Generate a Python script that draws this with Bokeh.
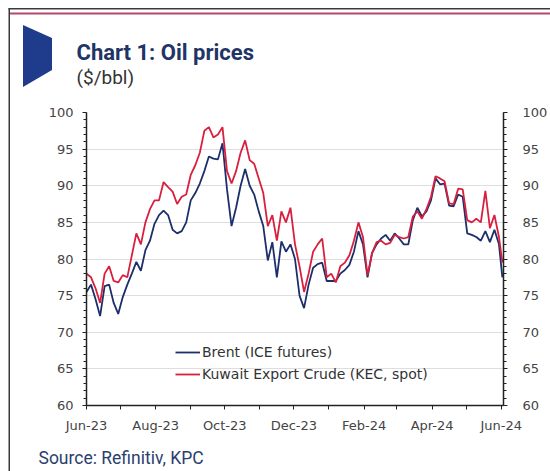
import datetime as dt
from urllib.parse import quote
from bokeh.plotting import figure
from bokeh.models import (Range1d, LinearAxis, SingleIntervalTicker, FixedTicker,
                          DatetimeTickFormatter, Legend, LegendItem, Label,
                          ColumnDataSource)
from bokeh.embed import file_html
from bokeh.resources import INLINE

dates = [
    "2023-06-01", "2023-06-05", "2023-06-09", "2023-06-13", "2023-06-17", "2023-06-21", "2023-06-25", "2023-06-29",
    "2023-07-03", "2023-07-07", "2023-07-11", "2023-07-15", "2023-07-19", "2023-07-23", "2023-07-27", "2023-07-31",
    "2023-08-04", "2023-08-08", "2023-08-12", "2023-08-16", "2023-08-20", "2023-08-24", "2023-08-28",
    "2023-09-01", "2023-09-05", "2023-09-09", "2023-09-13", "2023-09-17", "2023-09-21", "2023-09-25", "2023-09-29",
    "2023-10-03", "2023-10-07", "2023-10-11", "2023-10-15", "2023-10-19", "2023-10-23", "2023-10-27", "2023-10-31",
    "2023-11-04", "2023-11-08", "2023-11-12", "2023-11-16", "2023-11-20", "2023-11-24", "2023-11-28",
    "2023-12-02", "2023-12-06", "2023-12-10", "2023-12-14", "2023-12-18", "2023-12-22", "2023-12-26", "2023-12-30",
    "2024-01-03", "2024-01-07", "2024-01-11", "2024-01-15", "2024-01-19", "2024-01-23", "2024-01-27", "2024-01-31",
    "2024-02-04", "2024-02-08", "2024-02-12", "2024-02-16", "2024-02-20", "2024-02-24", "2024-02-28",
    "2024-03-03", "2024-03-07", "2024-03-11", "2024-03-15", "2024-03-19", "2024-03-23", "2024-03-27", "2024-03-31",
    "2024-04-04", "2024-04-08", "2024-04-12", "2024-04-16", "2024-04-20", "2024-04-24", "2024-04-28",
    "2024-05-02", "2024-05-06", "2024-05-10", "2024-05-14", "2024-05-18", "2024-05-22", "2024-05-26", "2024-05-30",
    "2024-06-02",
]

brent = [
    75.5, 76.5, 74.5, 72.2, 76.3, 76.5, 74.0, 72.5,
    74.8, 76.5, 78.0, 79.6, 78.4, 81.2, 82.5, 84.8,
    86.0, 86.6, 86.0, 84.0, 83.5, 83.8, 85.0,
    88.0, 89.0, 90.3, 92.0, 94.0, 93.7, 93.6, 95.8,
    89.5, 84.5, 87.0, 90.0, 92.3, 90.0, 88.8, 86.5,
    84.5, 79.8, 82.3, 77.5, 82.4, 81.0, 82.0,
    80.0, 75.0, 73.3, 76.5, 78.8, 79.3, 79.5, 77.0,
    77.0, 77.0, 78.0, 78.5, 79.2, 81.0, 83.8, 82.0,
    77.5, 80.8, 82.0, 82.8, 83.3, 82.5, 83.5,
    82.8, 82.0, 82.0, 85.3, 87.0, 85.8, 86.5, 88.0,
    91.0, 90.2, 90.3, 87.3, 87.2, 88.8, 88.5,
    83.5, 83.3, 83.0, 82.5, 83.8, 82.3, 84.0, 82.0,
    77.5,
]

kec = [
    78.0, 77.5, 76.0, 74.0, 78.0, 79.0, 77.0, 76.8,
    77.8, 77.5, 80.5, 83.5, 82.0, 85.0, 86.8, 88.0,
    88.0, 90.5, 89.8, 89.2, 87.5, 88.5, 88.8,
    91.5, 92.8, 94.5, 97.5, 98.0, 96.6, 97.0, 98.0,
    92.0, 90.3, 92.0, 94.5, 96.2, 93.5, 93.0, 91.0,
    89.0, 84.5, 86.0, 82.5, 86.5, 85.0, 87.0,
    82.0, 79.0, 75.5, 78.0, 81.0, 82.0, 82.8, 77.5,
    78.0, 76.8, 79.0, 79.5, 80.5, 82.5, 85.0, 83.0,
    77.8, 80.8, 82.3, 82.5, 82.0, 82.2, 83.3,
    83.0, 82.8, 83.0, 85.8, 86.5, 85.5, 86.8, 88.5,
    91.3, 91.0, 90.6, 87.6, 87.5, 89.6, 89.5,
    85.3, 85.0, 85.5, 85.0, 89.3, 84.2, 86.0, 83.0,
    79.5,
]

major_ticks = ["2023-06-01", "2023-08-01", "2023-10-01", "2023-12-01", "2024-02-01", "2024-04-01", "2024-06-01"]
minor_ticks = ["2023-07-01", "2023-09-01", "2023-11-01", "2024-01-01", "2024-03-01", "2024-05-01"]

title_text = "Chart 1: Oil prices"
subtitle_text = "($/bbl)"
source_text = "Source: Refinitiv, KPC"
series_names = ["Brent (ICE futures)", "Kuwait Export Crude (KEC, spot)"]


def to_dt(s):
    return dt.datetime.strptime(s, "%Y-%m-%d")


def ms(s):
    return (to_dt(s) - dt.datetime(1970, 1, 1)).total_seconds() * 1000.0


W, H = 550, 471
FL, FR, FT, FB = 86, 504, 112, 405   # frame edges in page pixels

# page decorations (frame lines and header icon) drawn as the plot's CSS background
deco_svg = (
    '<svg xmlns="http://www.w3.org/2000/svg" width="550" height="471">'
    '<rect x="8.5" y="8" width="542" height="1.5" fill="#3a3a3a"/>'
    '<rect x="10" y="12.5" width="540" height="2" fill="#b5476a"/>'
    '<rect x="8.5" y="8" width="1.5" height="463" fill="#3a3a3a"/>'
    '<polygon points="23,25 52,38 52,70 23,87" fill="#1f3c8c"/>'
    '</svg>'
)
bg_styles = {
    "background-color": "white",
    "background-image": 'url("data:image/svg+xml;utf8,' + quote(deco_svg) + '")',
    "background-repeat": "no-repeat",
    "background-size": "550px 471px",
}

src = ColumnDataSource(data=dict(x=[to_dt(d) for d in dates], brent=brent, kec=kec))

p = figure(width=W, height=H, output_backend="svg", toolbar_location=None,
           x_axis_type="datetime",
           x_range=Range1d(to_dt("2023-06-01"), to_dt("2024-06-03")),
           y_range=Range1d(60, 100),
           min_border_left=FL, min_border_right=W - FR, min_border_top=FT, min_border_bottom=H - FB,
           styles=bg_styles)
p.outline_line_color = None
p.background_fill_color = "white"
p.border_fill_color = None

BLUE = "#1c2f6b"
RED = "#d8203e"

r1 = p.line("x", "brent", source=src, line_color=BLUE, line_width=1.8)
r2 = p.line("x", "kec", source=src, line_color=RED, line_width=1.8)

# grid
p.xgrid.visible = False
p.ygrid.ticker = SingleIntervalTicker(interval=5)
p.ygrid.grid_line_color = "#dedede"
p.ygrid.grid_line_width = 1

lbl_font = "DejaVu Sans"
lbl_color = "#444444"
lbl_size = "13px"

# x axis
xa = p.xaxis[0]
xa.ticker = FixedTicker(ticks=[ms(t) for t in major_ticks], minor_ticks=[ms(t) for t in minor_ticks])
xa.formatter = DatetimeTickFormatter(days="%b-%y", months="%b-%y", years="%b-%y")
xa.axis_line_color = "#222222"
xa.axis_line_width = 1.5
xa.major_tick_line_color = "#222222"
xa.minor_tick_line_color = "#222222"
xa.major_tick_in = 0
xa.major_tick_out = 4
xa.minor_tick_in = 0
xa.minor_tick_out = 4
xa.major_label_text_font = lbl_font
xa.major_label_text_font_size = lbl_size
xa.major_label_text_color = lbl_color
xa.major_label_standoff = 8


def style_y(ax, standoff):
    ax.axis_line_color = "#222222"
    ax.axis_line_width = 1.5
    ax.major_tick_line_color = "#222222"
    ax.minor_tick_line_color = "#222222"
    ax.major_tick_in = 0
    ax.major_tick_out = 4
    ax.minor_tick_in = 0
    ax.minor_tick_out = 3
    ax.major_label_text_font = lbl_font
    ax.major_label_text_font_size = lbl_size
    ax.major_label_text_color = lbl_color
    ax.major_label_standoff = standoff


ya = p.yaxis[0]
ya.ticker = SingleIntervalTicker(interval=5, num_minor_ticks=5)
style_y(ya, 9)

ra = LinearAxis(ticker=SingleIntervalTicker(interval=5, num_minor_ticks=5))
style_y(ra, 15)
p.add_layout(ra, "right")

legend = Legend(items=[LegendItem(label=series_names[0], renderers=[r1]),
                       LegendItem(label=series_names[1], renderers=[r2])],
                location=(89, 23), orientation="vertical",
                border_line_color=None, background_fill_alpha=0,
                padding=0, margin=0, spacing=6, glyph_width=25, glyph_height=14,
                label_height=14, label_standoff=2,
                label_text_font=lbl_font, label_text_font_size="14px",
                label_text_color="#333333")
p.add_layout(legend, "center")

# texts outside the frame: labels in the top side panel, canvas pixels
p.add_layout(Label(x=76, y=52, x_units="canvas", y_units="canvas", text=title_text,
                   text_font="Roboto", text_font_style="bold", text_font_size="22px",
                   text_color="#1f3566", text_baseline="alphabetic"), "above")
p.add_layout(Label(x=76, y=77, x_units="canvas", y_units="canvas", text=subtitle_text,
                   text_font="Roboto", text_font_size="19px",
                   text_color="#333333", text_baseline="alphabetic"), "above")
p.add_layout(Label(x=38, y=457, x_units="canvas", y_units="canvas", text=source_text,
                   text_font="Roboto", text_font_size="17.5px",
                   text_color="#2b3f6e", text_baseline="alphabetic"), "above")

open("out.html", "w").write(file_html(p, INLINE))
